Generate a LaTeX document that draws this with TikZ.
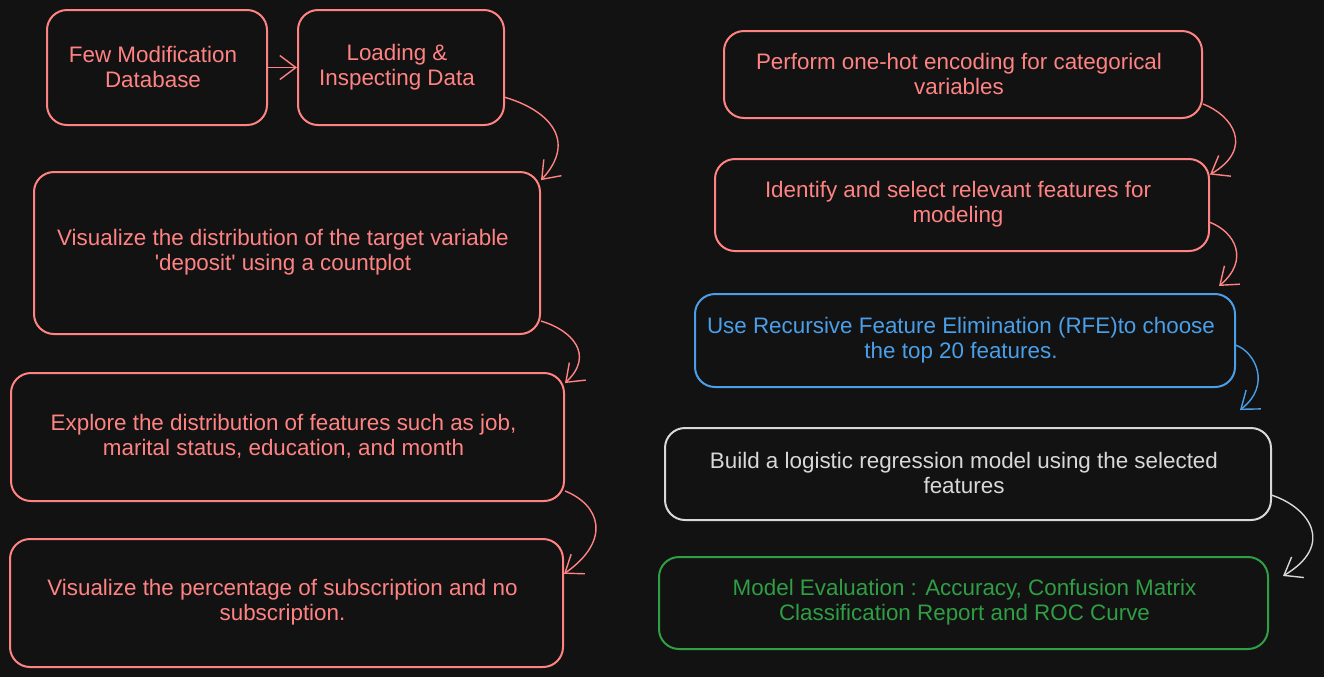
\documentclass[tikz,border=0pt]{standalone}
\usepackage{fontspec}
\setmainfont{Liberation Sans}
\usetikzlibrary{arrows.meta,fit,calc}
\definecolor{bg}{HTML}{121212}
\definecolor{cred}{HTML}{FF8383}
\definecolor{cblue}{HTML}{4A9FE8}
\definecolor{cgreen}{HTML}{2F9E44}
\definecolor{cwhite}{HTML}{D8D8D8}
\tikzset{
  box/.style={draw=cred, line width=1pt, rounded corners=10pt, inner sep=0pt},
  lbl/.style={align=center, inner sep=0pt, xshift=-2pt, yshift=0.3pt,
    font=\fontsize{11.2pt}{12.5pt}\selectfont},
  conn/.style={draw=cred, line width=0.7pt, -{Straight Barb[length=8pt,width=12pt,line width=0.7pt]}},
}
\begin{document}
\begin{tikzpicture}[x=0.5pt,y=-0.5pt]
\useasboundingbox[fill=bg] (0,0) rectangle (1324,677);
% left column
\node[box, fit={(47,10) (267,125)}, label={[lbl,text=cred]center:Few Modification\\Database}] (n1) {};
\node[box, fit={(298,10) (504,125)}, label={[lbl,text=cred]center:Loading \&\\Inspecting Data}] (n2) {};
\node[box, fit={(34,172) (540,334)}, label={[lbl,text=cred]center:Visualize the distribution of the target variable\\\textquotesingle deposit\textquotesingle{} using a countplot}] (n3) {};
\node[box, fit={(11,373) (564,501)}, label={[lbl,text=cred]center:Explore the distribution of features such as job,\\marital status, education, and month}] (n4) {};
\node[box, fit={(10,539) (563,667)}, label={[lbl,text=cred]center:Visualize the percentage of subscription and no\\subscription.}] (n5) {};
% right column
\node[box, fit={(724,31) (1202,118)}, label={[lbl,text=cred]center:Perform one-hot encoding for categorical\\variables}] (n6) {};
\node[box, fit={(715,159) (1209,251)}, label={[lbl,text=cred]center:Identify and select relevant features for\\modeling}] (n7) {};
\node[box, draw=cblue, fit={(695,294) (1235,387)}, label={[lbl,text=cblue]center:Use Recursive Feature Elimination (RFE)to choose\\the top 20 features.}] (n8) {};
\node[box, draw=cwhite, fit={(665,428) (1271,520)}, label={[lbl,text=cwhite]center:Build a logistic regression model using the selected\\features}] (n9) {};
\node[box, draw=cgreen, fit={(659,557) (1268,649)}, label={[lbl,text=cgreen,xshift=2.5pt]center:Model Evaluation : Accuracy, Confusion Matrix\\Classification Report and ROC Curve}] (n10) {};
% free ends
\coordinate (e8) at ($(n8.north east)+(-17,-7)$);
\coordinate (e9) at ($(n9.north east)+(-32,-17)$);
\coordinate (e10) at ($(n10.north east)+(14,20)$);
% connectors
\draw[conn] (n1.east) -- (n2.west);
\draw[conn] (n2.-16.5) .. controls (548,110) and (578,140) .. (n3.16.5);
\draw[conn] (n3.-15.7) .. controls (572,330) and (595,355) .. (n4.11.7);
\draw[conn] (n4.-11.2) .. controls (600,505) and (612,540) .. (n5.6.2);
\draw[conn] (n6.-7.74) .. controls (1232,115) and (1255,148) .. (n7.7.38);
\draw[conn] (n7.-4.63) .. controls (1235,232) and (1250,260) .. (e8);
\draw[conn, draw=cblue] (n8.-1.6) .. controls (1255,352) and (1272,385) .. (e9);
\draw[conn, draw=cwhite] (n9.-4.9) .. controls (1310,508) and (1335,545) .. (e10);
\end{tikzpicture}
\end{document}
